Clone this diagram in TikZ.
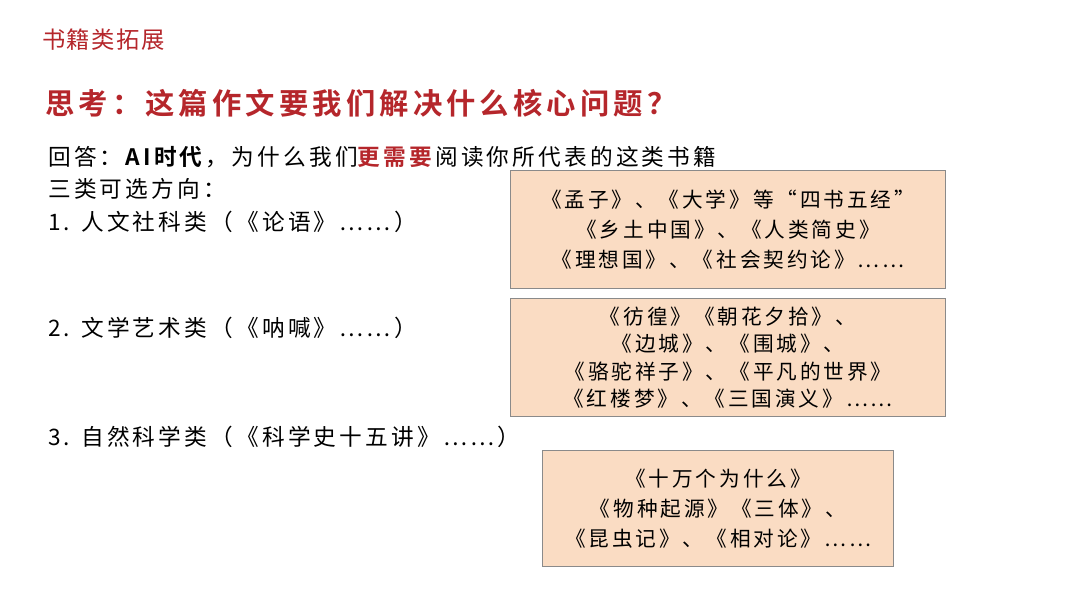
\documentclass[tikz,border=0pt]{standalone}
\usepackage{fontspec}
\setmainfont{Noto Sans CJK SC}[BoldFont={* Bold}]
\newfontfamily\spacedfont{Noto Sans CJK SC}[BoldFont={* Bold}, LetterSpace=14]
\newfontfamily\titlefont{Noto Sans CJK SC}[BoldFont={* Bold}, LetterSpace=6]
\usetikzlibrary{positioning}
\definecolor{titlered}{HTML}{B5262B}
\definecolor{boxfill}{HTML}{FADCC3}
\definecolor{boxline}{HTML}{8A8A8A}
\begin{document}
\begin{tikzpicture}[x=0.75pt, y=-0.75pt,
        every node/.style={inner sep=0, anchor=west},
        plain/.style={font=\spacedfont\fontsize{17}{18}\selectfont},
        bookbox/.style={draw=boxline, fill=boxfill, line width=0.8pt, anchor=north west,
            align=center, font=\spacedfont\fontsize{15.5}{22.5}\selectfont}]
        \useasboundingbox (0,0) rectangle (1080,608);
        \fill[white] (0,0) rectangle (1080,608);
        \node[text=titlered, font=\titlefont\fontsize{17.5}{18}\selectfont] (title) at (42,40) {书籍类拓展};
        \node[text=titlered, font=\spacedfont\fontsize{22}{24}\selectfont\bfseries] (question) at (45,103) {思考：这篇作文要我们解决什么核心问题？};
        \node[plain] (answer) at (48,157) {回答：\textbf{AI时代}，为什么我们\textcolor{titlered}{\textbf{更需要}}阅读你所代表的这类书籍};
        \node[plain] (three) at (48,189) {三类可选方向：};
        \node[plain] (cat1) at (48,222) {1. 人文社科类（《论语》……）};
        \node[plain] (cat2) at (48,328) {2. 文学艺术类（《呐喊》……）};
        \node[plain] (cat3) at (48,437) {3. 自然科学类（《科学史十五讲》……）};
        \node[bookbox, minimum width=435*0.75pt, minimum height=118*0.75pt] (box1) at (510,170)
            {《孟子》、《大学》等“四书五经”\\《乡土中国》、《人类简史》\\《理想国》、《社会契约论》……};
        \node[bookbox, minimum width=435*0.75pt, minimum height=118*0.75pt, font=\spacedfont\fontsize{15.5}{20.5}\selectfont] (box2) at (510,298)
            {《彷徨》《朝花夕拾》、\\《边城》、《围城》、\\《骆驼祥子》、《平凡的世界》\\《红楼梦》、《三国演义》……};
        \node[bookbox, minimum width=351*0.75pt, minimum height=116*0.75pt] (box3) at (542,450)
            {《十万个为什么》\\《物种起源》《三体》、\\《昆虫记》、《相对论》……};
    \end{tikzpicture}
\end{document}
